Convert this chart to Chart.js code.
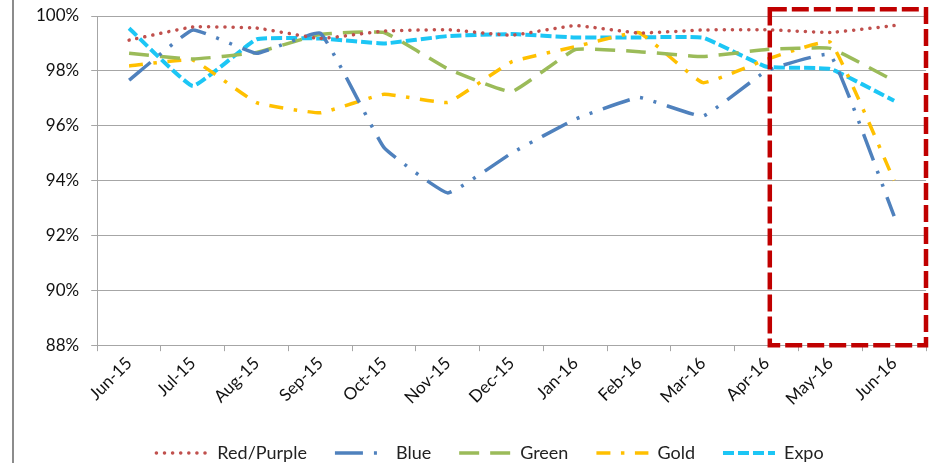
<!DOCTYPE html>
<html>
<head>
<meta charset="utf-8">
<script src="https://cdn.jsdelivr.net/npm/chart.js@4"></script>
<style>
    html, body { margin: 0; padding: 0; background: #fff; }
    #wrap { position: absolute; left: 12px; top: 0; width: 920px; height: 463px; border-left: 2px solid #8c8c8c; }
</style>
</head>
<body>
<div id="wrap"><canvas id="lineChart"></canvas></div>
<script>
// Month labels
const months = ['Jun-15', 'Jul-15', 'Aug-15', 'Sep-15', 'Oct-15', 'Nov-15', 'Dec-15',
    'Jan-16', 'Feb-16', 'Mar-16', 'Apr-16', 'May-16', 'Jun-16'];

// Percent values per line
const redPurple = [99.12, 99.6, 99.56, 99.18, 99.45, 99.5, 99.3, 99.65, 99.38, 99.49, 99.5, 99.4, 99.65];
const blue = [97.66, 99.49, 98.64, 99.37, 95.2, 93.55, 95.0, 96.24, 97.03, 96.35, 98.0, 98.58, 92.7];
const green = [98.64, 98.43, 98.67, 99.33, 99.4, 98.07, 97.24, 98.78, 98.7, 98.52, 98.78, 98.82, 97.64];
const gold = [98.18, 98.39, 96.84, 96.47, 97.15, 96.85, 98.33, 98.88, 99.39, 97.57, 98.42, 99.04, 94.0];
const expo = [99.55, 97.45, 99.15, 99.18, 99.0, 99.27, 99.34, 99.22, 99.22, 99.21, 98.15, 98.07, 96.91];

// Highlighted range (category index from, value at top edge)
const boxFrom = 10.05;
const boxTop = 100.25;

// Dashed red box around the last months
const highlightBox = {
    id: 'highlightBox',
    afterLayout(chart) {
        // legend sits a little right of centre in the original
        chart.legend.left += 15;
        chart.legend.right += 15;
    },
    afterDatasetsDraw(chart) {
        const { ctx, chartArea, scales: { x, y } } = chart;
        const left = x.getPixelForValue(boxFrom);
        const right = chartArea.right;
        const top = y.getPixelForValue(boxTop);
        const bottom = y.getPixelForValue(y.min);
        ctx.save();
        ctx.strokeStyle = '#C00000';
        ctx.lineWidth = 4.5;
        ctx.setLineDash([17, 5]);
        ctx.strokeRect(left, top, right - left, bottom - top);
        ctx.restore();
    }
};

function line(label, data, color, dash, width, cap) {
    return {
        label: label,
        data: data,
        borderColor: color,
        backgroundColor: color,
        borderWidth: width,
        borderDash: dash,
        borderCapStyle: cap || 'butt',
        pointRadius: 0,
        pointStyle: 'line',
        tension: 0.1,
        fill: false
    };
}

const chartData = {
    labels: months,
    datasets: [
        line('Red/Purple', redPurple, '#C0504D', [0.1, 8], 3.5, 'round'),
        line('Blue', blue, '#4F81BD', [28, 11, 3, 11, 3, 11], 3.5),
        line('Green', green, '#9BBB59', [20, 11], 3.5),
        line('Gold', gold, '#FFC000', [14, 10.5, 3.5, 10.5], 3.5),
        line('Expo', expo, '#1CC6F5', [11, 4], 4)
    ]
};

const tickFont = { family: 'Lato', size: 17 };

// legend samples keep each line's dash pattern
function legendLabels(chart) {
    const items = Chart.defaults.plugins.legend.labels.generateLabels(chart);
    items.forEach((item, i) => {
        const ds = chart.data.datasets[i];
        item.lineDash = ds.borderDash;
        item.lineCap = ds.borderCapStyle;
        item.lineWidth = ds.borderWidth;
    });
    return items;
}

const chartConfig = {
    type: 'line',
    data: chartData,
    options: {
        responsive: true,
        maintainAspectRatio: false,
        animation: false,
        layout: { padding: { top: 3, right: 8, left: 10, bottom: -9 } },
        scales: {
            x: {
                offset: true,
                grid: { drawOnChartArea: false, offset: true, tickLength: 6, color: '#A6A6A6' },
                border: { color: '#A6A6A6' },
                ticks: { font: tickFont, color: '#111', minRotation: 45, maxRotation: 45, padding: 2 },
                afterFit: (scale) => { scale.height += 5; }
            },
            y: {
                min: 88,
                max: 100,
                grid: { color: '#A6A6A6', tickLength: 6 },
                border: { color: '#A6A6A6' },
                ticks: { stepSize: 2, font: tickFont, color: '#111', padding: 12,
                    callback: (v) => v + '%' },
                afterFit: (scale) => { scale.paddingTop = 16; }
            }
        },
        plugins: {
            legend: {
                position: 'bottom',
                labels: {
                    usePointStyle: true,
                    pointStyleWidth: 52,
                    font: { family: 'Lato', size: 18 },
                    color: '#222',
                    padding: 28,
                    generateLabels: legendLabels
                }
            },
            tooltip: { enabled: false }
        }
    },
    plugins: [highlightBox]
};

const lineChart = new Chart(document.getElementById('lineChart'), chartConfig);
</script>
</body>
</html>
